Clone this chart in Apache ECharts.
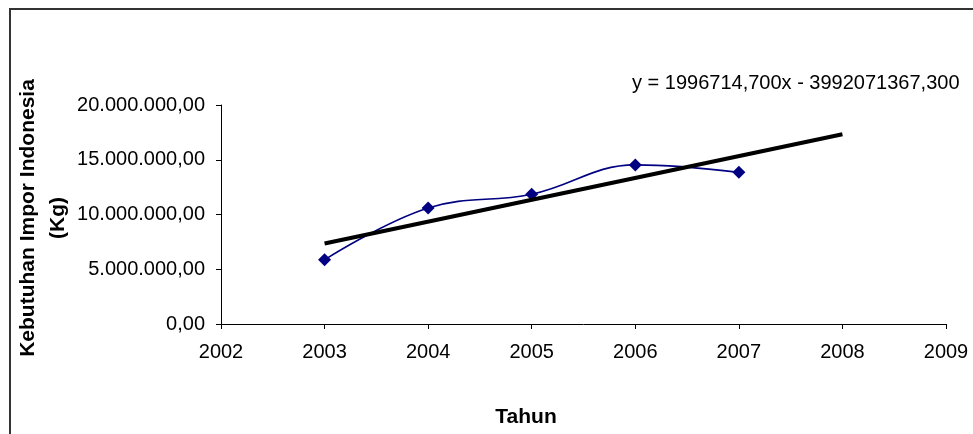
<!DOCTYPE html>
<html>
<head>
<meta charset="utf-8">
<script src="https://cdn.jsdelivr.net/npm/echarts@6/dist/echarts.min.js"></script>
<style>
html,body{margin:0;padding:0;background:#fff;}
#chart{width:973px;height:434px;}
</style>
</head>
<body>
<div id="chart"></div>
<script>
// Data
const years = [2003, 2004, 2005, 2006, 2007];
const imports = [5860000, 10600000, 11850000, 14530000, 13850000];
// Linear trendline (y = 1996714,700x - 3992071367,300), drawn 2003..2008
const trendYears = [2003, 2008];
const trendValues = [7348177, 17331750];
const equationText = 'y = 1996714,700x - 3992071367,300';
const xTicks = [2002, 2003, 2004, 2005, 2006, 2007, 2008, 2009];
const yTicks = [0, 5000000, 10000000, 15000000, 20000000];
const yTitle = 'Kebutuhan Impor Indonesia\n(Kg)';
const xTitle = 'Tahun';

const FONT = '"Liberation Sans", Arial, sans-serif';

function fmtId(v) {
  const s = Math.round(v).toString().replace(/\B(?=(\d{3})+(?!\d))/g, '.');
  return s + ',00';
}

const chart = echarts.init(document.getElementById('chart'), null, {renderer: 'canvas'});
chart.setOption({
  backgroundColor: '#fff',
  animation: false,
  grid: {left: 221, right: 27, top: 105, bottom: 110, containLabel: false},
  xAxis: {
    type: 'value',
    min: xTicks[0],
    max: xTicks[xTicks.length - 1],
    interval: 1,
    axisLine: {show: true, lineStyle: {color: '#000', width: 1}},
    axisTick: {show: true, inside: false, length: 5, lineStyle: {color: '#000'}},
    axisLabel: {color: '#000', fontFamily: FONT, fontSize: 20, margin: 18,
      formatter: v => String(v)},
    splitLine: {show: false}
  },
  yAxis: {
    type: 'value',
    min: yTicks[0],
    max: yTicks[yTicks.length - 1],
    interval: 5000000,
    axisLine: {show: true, lineStyle: {color: '#000', width: 1}},
    axisTick: {show: true, inside: false, length: 5, lineStyle: {color: '#000'}},
    axisLabel: {color: '#000', fontFamily: FONT, fontSize: 20, margin: 16,
      formatter: v => fmtId(v)},
    splitLine: {show: false}
  },
  graphic: [
    {type: 'rect', silent: true, z: -10,
      shape: {x: 10, y: 9, width: 1200, height: 700},
      style: {fill: 'none', stroke: '#333', lineWidth: 2}},
    {type: 'text', x: 632, y: 83, silent: true,
      style: {text: equationText, fill: '#000', font: '20px ' + FONT,
        align: 'left', verticalAlign: 'middle'}},
    {type: 'text', x: 526, y: 417, silent: true,
      style: {text: xTitle, fill: '#000', font: 'bold 21px ' + FONT,
        align: 'center', verticalAlign: 'middle'}},
    {type: 'text', x: 43, y: 218, rotation: Math.PI / 2, silent: true,
      style: {text: yTitle, fill: '#000', font: 'bold 21px ' + FONT,
        align: 'center', verticalAlign: 'middle', lineHeight: 30}}
  ],
  series: [
    {
      name: 'Kebutuhan Impor',
      type: 'line',
      data: years.map((y, i) => [y, imports[i]]),
      smooth: 0.4,
      symbol: 'diamond',
      symbolSize: 13,
      lineStyle: {color: '#000080', width: 1.6},
      itemStyle: {color: '#000080'},
      z: 3
    },
    {
      name: 'Trendline',
      type: 'line',
      data: trendYears.map((y, i) => [y, trendValues[i]]),
      symbol: 'none',
      lineStyle: {color: '#000', width: 4, cap: 'butt'},
      z: 4
    }
  ]
});
</script>
</body>
</html>
